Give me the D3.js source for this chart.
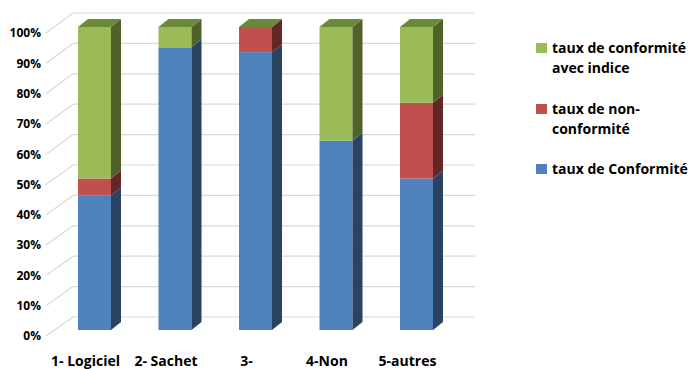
<!DOCTYPE html>
<html>
<head>
<meta charset="utf-8">
<script src="https://cdn.jsdelivr.net/npm/d3@7"></script>
<style>
  html, body { margin: 0; padding: 0; background: #fff; }
  svg { display: block; font-family: "Open Sans", "DejaVu Sans", sans-serif; font-weight: bold; }
</style>
</head>
<body>
<svg id="chart" width="694" height="369"></svg>
<script>
// Categories and stacked percentages (bottom to top)
const categories = ["1- Logiciel", "2- Sachet", "3-", "4-Non", "5-autres"];
const conformite = [44.4, 93.3, 91.7, 62.5, 50.0];     // taux de Conformité
const nonConformite = [5.6, 0, 8.3, 0, 25.0];           // taux de non-conformité
const conformiteIndice = [50.0, 6.7, 0, 37.5, 25.0];    // taux de conformité avec indice
const yTicks = [0, 10, 20, 30, 40, 50, 60, 70, 80, 90, 100];

const seriesNames = ["taux de Conformité", "taux de non-conformité", "taux de conformité avec indice"];
const seriesValues = [conformite, nonConformite, conformiteIndice];
const colors = {
  front: ["#4F81BD", "#C0504D", "#9BBB59"],
  side:  ["#2A4362", "#632826", "#4F6229"],
  top:   "#6A8A3A"
};

const svg = d3.select("#chart");

// Depth projection
const barDepthX = 10, barDepthY = -8;
const barWidth = 33;

// Scales: back wall, left side wall front edge, and the bars' front plane
const yBack = d3.scaleLinear().domain([0, 100]).range([317, 13]);
const ySideFront = d3.scaleLinear().domain([0, 100]).range([336, 33]);
const yBar = d3.scaleLinear().domain([0, 100]).range([330, 27]);
const xCenter = d3.scalePoint().domain(categories).range([94.5, 416.5]);

const wallLeft = 73, wallRight = 475, sideLeft = 46;

// Gridlines: back wall and side wall
const grid = svg.append("g");
yTicks.forEach(t => {
  grid.append("line")
    .attr("x1", wallLeft).attr("x2", wallRight)
    .attr("y1", yBack(t)).attr("y2", yBack(t))
    .attr("stroke", "#D9D9D9").attr("stroke-width", 1.2);
  grid.append("line")
    .attr("x1", sideLeft).attr("y1", ySideFront(t))
    .attr("x2", wallLeft).attr("y2", yBack(t))
    .attr("stroke", "#D9D9D9").attr("stroke-width", 1.2);
});

// Y axis labels
const yAxis = d3.axisLeft(ySideFront)
  .tickValues(yTicks)
  .tickFormat(d => d + "%")
  .tickSize(0)
  .tickPadding(0);
const yg = svg.append("g").attr("transform", "translate(41,0)").call(yAxis);
yg.select(".domain").remove();
yg.selectAll("text")
  .attr("font-family", "'Open Sans', sans-serif")
  .attr("font-weight", "bold")
  .attr("font-size", 12)
  .attr("fill", "#000");

// Stack the series
const rows = categories.map((c, i) => {
  const r = { cat: c };
  seriesValues.forEach((s, k) => { r["s" + k] = s[i]; });
  return r;
});
const stack = d3.stack().keys(["s0", "s1", "s2"])(rows);

// Bars: front faces, side faces and top faces
const bars = svg.append("g");
categories.forEach((c, i) => {
  const xl = xCenter(c) - barWidth / 2;
  const xr = xl + barWidth;
  const g = bars.append("g");
  stack.forEach((layer, k) => {
    const [v0, v1] = layer[i];
    if (v1 - v0 <= 0) return;
    const y0 = yBar(v0), y1 = yBar(v1);
    g.append("rect")
      .attr("x", xl).attr("y", y1)
      .attr("width", barWidth).attr("height", y0 - y1)
      .attr("fill", colors.front[k]);
    g.append("path")
      .attr("d", `M${xr},${y1}L${xr + barDepthX},${y1 + barDepthY}L${xr + barDepthX},${y0 + barDepthY}L${xr},${y0}Z`)
      .attr("fill", colors.side[k]);
  });
  const yt = yBar(stack[2][i][1]);
  g.append("path")
    .attr("d", `M${xl},${yt}L${xl + barDepthX},${yt + barDepthY}L${xr + barDepthX},${yt + barDepthY}L${xr},${yt}Z`)
    .attr("fill", colors.top);
});

// Category labels
svg.append("g").selectAll("text")
  .data(categories)
  .join("text")
  .attr("x", d => xCenter(d) - 9)
  .attr("y", 366)
  .attr("text-anchor", "middle")
  .attr("font-size", 14)
  .attr("fill", "#000")
  .text(d => d);

// Legend
const legendItems = [
  { k: 2, lines: ["taux de conformité", "avec indice"], y: 43 },
  { k: 1, lines: ["taux de non-", "conformité"], y: 104 },
  { k: 0, lines: ["taux de Conformité"], y: 164 }
];
const legend = svg.append("g");
legendItems.forEach(it => {
  legend.append("rect")
    .attr("x", 536).attr("y", it.y)
    .attr("width", 11).attr("height", 10)
    .attr("fill", colors.front[it.k]);
  it.lines.forEach((ln, j) => {
    legend.append("text")
      .attr("x", 552).attr("y", it.y + 10 + j * 20)
      .attr("font-size", 14)
      .attr("fill", "#000")
      .text(ln);
  });
});
</script>
</body>
</html>
